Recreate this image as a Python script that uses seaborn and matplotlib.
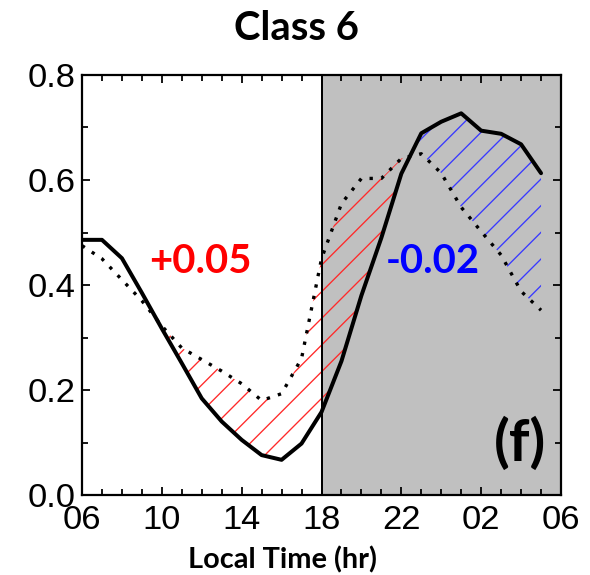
import numpy as np
import pandas as pd
import matplotlib
matplotlib.use("Agg")
import matplotlib.pyplot as plt
import seaborn as sns

# Diurnal cycle, hours 06 LT through 05 LT of the next day
hours = list(range(6, 30))
solid_vals = [0.486, 0.486, 0.451, 0.385, 0.317, 0.251, 0.184, 0.140, 0.105, 0.076,
              0.067, 0.098, 0.158, 0.255, 0.380, 0.490, 0.612, 0.689, 0.711, 0.727,
              0.694, 0.688, 0.668, 0.613]
dotted_vals = [0.475, 0.450, 0.410, 0.370, 0.322, 0.280, 0.258, 0.236, 0.212, 0.180,
               0.193, 0.260, 0.450, 0.555, 0.603, 0.603, 0.641, 0.650, 0.613, 0.548,
               0.502, 0.457, 0.388, 0.352]

tick_hours = [6, 10, 14, 18, 22, 26, 30]
tick_labels = ["06", "10", "14", "18", "22", "02", "06"]
day_diff_label = "+0.05"
night_diff_label = "-0.02"
panel_title = "Class 6"
panel_tag = "(f)"

df = pd.DataFrame({"hour": hours, "solid": solid_vals, "dotted": dotted_vals})

sns.set_theme(style="ticks")
plt.rcParams["font.family"] = ["Liberation Sans Narrow", "Liberation Sans", "DejaVu Sans"]
plt.rcParams["text.color"] = "black"
plt.rcParams["axes.labelcolor"] = "black"
plt.rcParams["hatch.linewidth"] = 1.2

BOLD = ["Lato", "DejaVu Sans"]
DPI = 80
fig = plt.figure(figsize=(590 / DPI, 575 / DPI), dpi=DPI)
ax = fig.add_axes([82 / 590, 80 / 575, 479 / 590, 420 / 575])

# night-time shading and the sunset marker
ax.axvspan(18, 30, color="#c0c0c0", lw=0, zorder=0)
ax.axvline(18, color="black", lw=1.8, zorder=3)

x = df["hour"].to_numpy(float)
ys = df["solid"].to_numpy()
yd = df["dotted"].to_numpy()

# hatched differences between the two curves
ax.fill_between(x, ys, yd, where=yd > ys, interpolate=True,
                facecolor="none", edgecolor="#ff2a2a", hatch="/", lw=0, zorder=1)
ax.fill_between(x, ys, yd, where=(ys > yd) & (x >= 18), interpolate=True,
                facecolor="none", edgecolor="#3a3aff", hatch="/", lw=0, zorder=1)

sns.lineplot(data=df, x="hour", y="solid", ax=ax, color="black", lw=3.6, zorder=4)
sns.lineplot(data=df, x="hour", y="dotted", ax=ax, color="black", lw=3.0,
             linestyle=(0, (1, 2.5)), zorder=4)

ax.set_xlim(6, 30)
ax.set_ylim(0, 0.8)
ax.set_xticks(tick_hours)
ax.set_xticklabels(tick_labels)
ax.set_xticks(range(6, 31), minor=True)
ax.set_yticks([0.0, 0.2, 0.4, 0.6, 0.8])
ax.set_yticklabels(["0.0", "0.2", "0.4", "0.6", "0.8"])
ax.set_yticks(np.arange(0, 0.81, 0.1), minor=True)
ax.tick_params(which="both", direction="in", top=True, right=True, width=1.6,
               colors="black")
ax.tick_params(which="major", length=7, labelsize=31, pad=6)
ax.tick_params(which="minor", length=5)
ax.tick_params(axis="x", which="major", pad=9)
for sp in ax.spines.values():
    sp.set_linewidth(2.0)
    sp.set_color("black")

ax.set_ylabel("")
ax.set_xlabel("Local Time (hr)", family=BOLD, fontweight="bold", fontsize=26,
              va="center", color="black")
ax.xaxis.set_label_coords((283 - 82) / 479, -65 / 420)

fig.text(297 / 590, 1 - 28 / 575, panel_title, family=BOLD, fontweight="bold",
         fontsize=36, ha="center", va="center", color="black")

ax.text(11.95, 0.444, day_diff_label, color="#ff0000", family=BOLD,
        fontweight="bold", fontsize=36, ha="center", va="center", zorder=5)
ax.text(23.6, 0.444, night_diff_label, color="#0000ff", family=BOLD,
        fontweight="bold", fontsize=36, ha="center", va="center", zorder=5)
ax.text(27.94, 0.097, panel_tag, color="black", family=BOLD,
        fontweight="bold", fontsize=52, ha="center", va="center", zorder=5)

fig.savefig("out.png", dpi=DPI)
